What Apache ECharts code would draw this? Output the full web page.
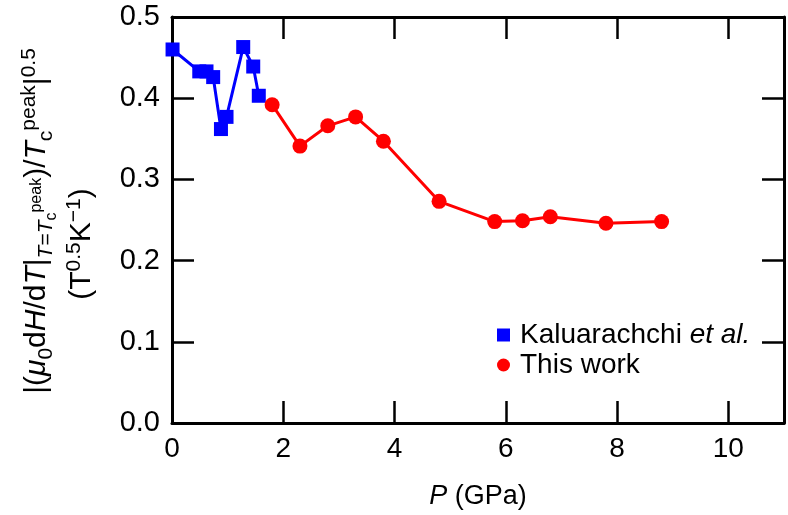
<!DOCTYPE html>
<html>
<head>
<meta charset="utf-8">
<script src="https://cdn.jsdelivr.net/npm/echarts@6/dist/echarts.min.js"></script>
<style>
html,body{margin:0;padding:0;background:#fff;}
#chart{width:788px;height:515px;}
</style>
</head>
<body>
<div id="chart"></div>
<script>
// Data
const kaluP = [0.01, 0.49, 0.62, 0.74, 0.88, 0.98, 1.28, 1.46, 1.56];
const kaluV = [0.460, 0.433, 0.433, 0.426, 0.362, 0.377, 0.463, 0.439, 0.403];
const workP = [1.8, 2.3, 2.8, 3.3, 3.8, 4.8, 5.8, 6.3, 6.8, 7.8, 8.8];
const workV = [0.392, 0.341, 0.366, 0.377, 0.347, 0.273, 0.248, 0.249, 0.254, 0.246, 0.248];
const seriesNames = ['Kaluarachchi et al.', 'This work'];

const FONT = '"Liberation Sans", Arial, Helvetica, sans-serif';
const chart = echarts.init(document.getElementById('chart'));

const axisCommon = {
  axisLine: {show: true, onZero: false, lineStyle: {color: '#000', width: 3}},
  axisTick: {show: true, inside: true, length: 22, lineStyle: {color: '#000', width: 2.5}},
  splitLine: {show: false}
};

const mainSize = 30, subSize = 21, ssSize = 16, LH = 46;
const rich1 = {
  n: {fontSize: mainSize, fontFamily: FONT, color: '#000', lineHeight: LH},
  i: {fontSize: mainSize, fontFamily: FONT, fontStyle: 'italic', color: '#000', lineHeight: LH},
  s: {fontSize: subSize, fontFamily: FONT, color: '#000', verticalAlign: 'bottom', padding: [0, 0, 3, 0]},
  si: {fontSize: subSize, fontFamily: FONT, fontStyle: 'italic', color: '#000', verticalAlign: 'bottom', padding: [0, 0, 3, 0]},
  ss: {fontSize: ssSize, fontFamily: FONT, color: '#000', verticalAlign: 'bottom', padding: [0, 0, 0, 0]},
  sp: {fontSize: ssSize, fontFamily: FONT, color: '#000', verticalAlign: 'top', padding: [15, 0, 0, 0]},
  p: {fontSize: subSize, fontFamily: FONT, color: '#000', verticalAlign: 'top', padding: [5, 0, 0, 0]}
};

chart.setOption({
  animation: false,
  backgroundColor: '#fff',
  grid: {left: 172, right: 4, top: 17, bottom: 89, containLabel: false},
  legend: {
    orient: 'vertical',
    left: 492, top: 316,
    itemWidth: 13, itemHeight: 13, itemGap: 2,
    textStyle: {fontFamily: FONT, fontSize: 28, color: '#000', padding: [0, 0, 0, 5],
      rich: {n: {fontFamily: FONT, fontSize: 28, color: '#000'}, it: {fontFamily: FONT, fontSize: 28, fontStyle: 'italic', color: '#000'}}},
    formatter: function (name) {
      if (name === seriesNames[0]) return '{n|Kaluarachchi }{it|et al.}';
      return '{n|' + name + '}';
    },
    data: [{name: seriesNames[0], icon: 'rect'}, {name: seriesNames[1], icon: 'circle'}]
  },
  xAxis: [
    Object.assign({}, axisCommon, {
      type: 'value', min: 0, max: 11, interval: 2, position: 'bottom',
      axisLabel: {show: true, showMaxLabel: false, fontFamily: FONT, fontSize: 28, color: '#000', margin: 12},
      name: '{i|P} (GPa)', nameLocation: 'middle', nameGap: 60,
      nameTextStyle: {fontFamily: FONT, fontSize: 27, color: '#000',
        rich: {i: {fontFamily: FONT, fontSize: 27, fontStyle: 'italic', color: '#000'}}}
    }),
    Object.assign({}, axisCommon, {
      type: 'value', min: 0, max: 11, interval: 2, position: 'top',
      axisLabel: {show: false}
    })
  ],
  yAxis: [
    Object.assign({}, axisCommon, {
      type: 'value', min: 0, max: 0.5, interval: 0.1, position: 'left',
      axisLabel: {show: true, fontFamily: FONT, fontSize: 29, color: '#000', margin: 12,
        formatter: v => v.toFixed(1)}
    }),
    Object.assign({}, axisCommon, {
      type: 'value', min: 0, max: 0.5, interval: 0.1, position: 'right',
      axisLabel: {show: false}
    })
  ],
  graphic: [
    {
      type: 'text', x: 37, y: 221, rotation: Math.PI / 2,
      style: {
        text: '{n||(}{i|μ}{s|0}{n|d}{i|H}{n|/d}{i|T}{n||}{si|T}{s|=}{si|T}{ss|c}{sp|peak}{n|)/}{i|T}{s|c}{p|peak}{n||}{p|0.5}',
        rich: rich1, align: 'center', verticalAlign: 'middle', fill: '#000'
      }
    },
    {
      type: 'text', x: 82, y: 244, rotation: Math.PI / 2,
      style: {
        text: '{n|(T}{p|0.5}{n|K}{p|−1}{n|)}',
        rich: rich1, align: 'center', verticalAlign: 'middle', fill: '#000'
      }
    }
  ],
  series: [
    {
      name: seriesNames[0], type: 'line', xAxisIndex: 0, yAxisIndex: 0,
      data: kaluP.map((p, k) => [p, kaluV[k]]),
      symbol: 'rect', symbolSize: 14,
      lineStyle: {color: '#0000ff', width: 3},
      itemStyle: {color: '#0000ff'},
      z: 3
    },
    {
      name: seriesNames[1], type: 'line', xAxisIndex: 0, yAxisIndex: 0,
      data: workP.map((p, k) => [p, workV[k]]),
      symbol: 'circle', symbolSize: 15,
      lineStyle: {color: '#ff0000', width: 3},
      itemStyle: {color: '#ff0000'},
      z: 4
    }
  ]
});
</script>
</body>
</html>
